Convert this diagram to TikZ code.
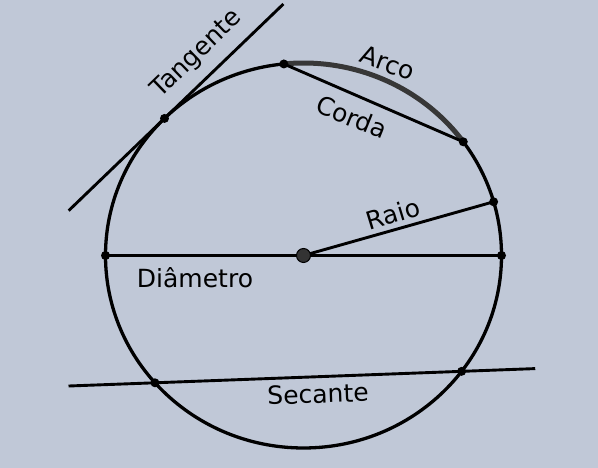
\documentclass[tikz,border=0pt]{standalone}
\usepackage{fontspec}
\setmainfont{DejaVu Sans}
\usetikzlibrary{calc}
\definecolor{fundo}{RGB}{192,200,215}
\definecolor{arcocor}{RGB}{55,55,55}
\tikzset{
  linha/.style={line width=2.9pt, black},
  rotulo/.style={font=\fontsize{25}{28}\selectfont, inner sep=0pt},
  ponto/.style={fill=black, circle, inner sep=0pt, minimum size=9pt},
}
\begin{document}
\begin{tikzpicture}[x=1pt,y=1pt]
      \fill[fundo] (0,0) rectangle (598,468);
      \useasboundingbox (0,0) rectangle (598,468);
      \coordinate (c) at (303.5,212.5);
      \coordinate (a1) at ($(c)+(95.7:198pt and 192.5pt)$);
      \coordinate (a2) at ($(c)+(36.2:198pt and 192.5pt)$);
      \coordinate (t) at ($(c)+(134.6:198pt and 192.5pt)$);
      \coordinate (r) at ($(c)+(16.2:198pt and 192.5pt)$);
      \coordinate (d1) at ($(c)+(180:198pt and 192.5pt)$);
      \coordinate (d2) at ($(c)+(0:198pt and 192.5pt)$);
      \coordinate (s1) at ($(c)+(221.4:198pt and 192.5pt)$);
      \coordinate (s2) at ($(c)+(323:198pt and 192.5pt)$);
      \coordinate (t1) at ($(t)+(223.9:133pt)$);
      \coordinate (t2) at ($(t)+(43.9:165pt)$);
      \coordinate (s0) at ($(s1)!-0.282!(s2)$);
      \coordinate (s3) at ($(s1)!1.24!(s2)$);
      % circunferencia
      \draw[linha, line width=3.3pt] (c) ellipse[x radius=198, y radius=192.5];
      \draw[line width=5pt, arcocor] (a1) arc[start angle=95.7, end angle=36.2, x radius=198, y radius=192.5];
      % retas
      \draw[linha] (t1) -- (t2);
      \draw[linha] (a1) -- (a2);
      \draw[linha] (c) -- (r);
      \draw[linha] (d1) -- (d2);
      \draw[linha] (s0) -- (s3);
      % pontos
      \foreach \p in {a1,a2,t,r,d1,d2,s1,s2}
        \node[ponto] at (\p) {};
      \node[ponto, minimum size=14pt, fill=black!80, draw=black, line width=1pt] (centro) at (c) {};
      % rotulos
      \node[rotulo, rotate=44] (tangente) at (197,414) {Tangente};
      \node[rotulo, rotate=-20] (arco) at (388,405) {Arco};
      \node[rotulo, rotate=-22] (corda) at (352,351) {Corda};
      \node[rotulo, rotate=17] (raio) at (393,254) {Raio};
      \node[rotulo] (diametro) at (195,190) {Diâmetro};
      \node[rotulo, rotate=2] (secante) at (318,74) {Secante};
\end{tikzpicture}
\end{document}
